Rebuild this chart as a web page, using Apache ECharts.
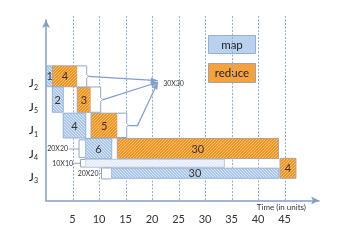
<!DOCTYPE html>
<html><head><meta charset="utf-8">
<script src="https://cdn.jsdelivr.net/npm/echarts@6/dist/echarts.min.js"></script>
<style>html,body{margin:0;padding:0;background:#fff}#c{width:349px;height:247px}</style>
</head><body><div id="c"></div>
<script>
// ---- data ----
const jobs = ['J3', 'J4', 'J1', 'J5', 'J2'];            // lanes 1..5 (bottom to top)
const gridTimes = [5, 10, 15, 20, 25, 30, 35, 40, 45];
const tickLabels = ['5', '10', '15', '20', '25', '30', '35', '40', '45'];

const barKind  = ['map', 'reduce', 'map', 'reduce', 'map', 'reduce', 'map', 'reduce', 'shuffle', 'map', 'reduce'];
const barText  = ['1', '4', '2', '3', '4', '5', '6', '30', '', '30', '4'];
const barStart = [0.1, 1.25, 1.2, 5.9, 3.25, 8.5, 7.35, 13.45, 7.35, 12.25, 44.15];
const barEnd   = [1.25, 5.9, 3.25, 8.45, 7.5, 13.45, 12.4, 43.85, 33.65, 43.95, 47.15];
const laneLow  = [4.86, 4.86, 3.77, 3.77, 2.67, 2.67, 1.79, 1.79, 1.42, 0.95, 0.95];
const laneHigh = [5.75, 5.75, 4.85, 4.85, 3.73, 3.73, 2.65, 2.65, 1.76, 1.38, 1.8];

// brackets (edge = side touching the bar, spine = outer side)
const braceEdge  = [5.9, 8.43, 13.45, 7.35, 7.35, 12.25];
const braceSpine = [7.68, 10.32, 15.23, 6.23, 6.5, 10.47];
const braceLow   = [4.85, 3.77, 2.69, 1.84, 1.43, 0.92];
const braceHigh  = [5.75, 4.85, 3.73, 2.59, 1.75, 1.39];

// connectors
const mergeTarget = [21.1, 5.1];
const mergeLabel = '30X30';
const mergeLabelPos = [22.1, 4.98];
const linkPaths = [
  [[8.0, 5.3], [21.1, 5.12]],
  [[10.66, 4.3], [21.1, 5.05]],
  [[15.57, 3.2], [17.26, 3.2], [21.1, 5.05]]
];
const sizeLabels = ['20X20', '10X10', '20X20'];
const sizeLabelPos = [[4.15, 2.2], [5.1, 1.57], [9.9, 1.16]];
const sizeLinkFrom = [[6.23, 2.2], [6.5, 1.59], [10.47, 1.15]];

// ---- styles ----
function hatch(bg, line, back) {
  const n = 3, c = document.createElement('canvas');
  c.width = n; c.height = n;
  const g = c.getContext('2d');
  g.fillStyle = bg; g.fillRect(0, 0, n, n);
  g.strokeStyle = line; g.lineWidth = 1;
  for (let k = -1; k <= 1; k++) {
    g.beginPath();
    if (back) { g.moveTo(k * n, 0); g.lineTo(k * n + n, n); }
    else { g.moveTo(k * n, n); g.lineTo(k * n + n, 0); }
    g.stroke();
  }
  return { image: c, repeat: 'repeat' };
}
const fills = {
  map: hatch('#a9c6ea', '#dde8f6', true),
  reduce: hatch('#f39322', '#fbc271', false),
  shuffle: hatch('#e2ebf7', '#f6f9fd', true)
};
const strokes = { map: '#93b2da', reduce: '#a8a39c', shuffle: '#b9c6d6' };
const FONT = 'Lato, "Open Sans", sans-serif';
const LINE = '#7f9fcb';

const chart = echarts.init(document.getElementById('c'), null, { renderer: 'canvas' });

const option = {
  animation: false,
  grid: { left: 46, right: 30, top: 20, bottom: 46.5 },
  xAxis: {
    type: 'value', min: 0, max: 51.5, interval: 5,
    axisLine: { show: true, onZero: false, symbol: ['none', 'arrow'], symbolSize: [6, 8], lineStyle: { color: LINE, width: 1.5 } },
    axisTick: { show: false }, splitLine: { show: false },
    axisLabel: {
      margin: 13, fontSize: 11, color: '#333', fontFamily: FONT,
      formatter: v => { const k = gridTimes.indexOf(v); return k >= 0 ? tickLabels[k] : ''; }
    },
    name: 'Time (in units)', nameLocation: 'end', nameGap: -13,
    nameTextStyle: { align: 'right', verticalAlign: 'top', padding: [3, 0, 0, 0], fontSize: 8, color: '#333', fontFamily: FONT }
  },
  yAxis: {
    type: 'value', min: 0, max: 7.71, interval: 1,
    axisLine: { show: true, onZero: false, symbol: ['none', 'arrow'], symbolSize: [6, 8], lineStyle: { color: LINE, width: 1.5 } },
    axisTick: { show: false }, splitLine: { show: false },
    axisLabel: {
      margin: 8, fontSize: 12, color: '#222', fontFamily: FONT,
      formatter: v => {
        const j = Number.isInteger(v) ? jobs[v - 1] : null;
        return j ? j[0] + '{s|' + j.slice(1) + '}' : '';
      },
      rich: { s: { fontSize: 7, color: '#222', fontFamily: FONT, padding: [8, 0, 0, 0] } }
    }
  },
  series: [
    { // vertical dotted gridlines
      type: 'custom', coordinateSystem: 'cartesian2d', clip: false, z: 1,
      data: gridTimes.map(t => [t, 0]),
      encode: { x: 0, y: 1 },
      renderItem: (params, api) => {
        const cs = params.coordSys;
        const x = Math.round(api.coord([api.value(0), 0])[0]) + 0.5;
        return { type: 'line', shape: { x1: x, y1: cs.y - 4, x2: x, y2: cs.y + cs.height },
          style: { stroke: '#8fb0da', lineWidth: 1, lineDash: [2, 1.5] } };
      }
    },
    { // connector lines
      type: 'custom', coordinateSystem: 'cartesian2d', clip: false, z: 2,
      data: linkPaths.map((p, i) => [p[0][0], p[0][1], i]),
      encode: { x: 0, y: 1 },
      renderItem: (params, api) => {
        const pts = linkPaths[api.value(2)].map(p => api.coord(p));
        const E = pts[pts.length - 1], P = pts[pts.length - 2];
        let dx = E[0] - P[0], dy = E[1] - P[1]; const L = Math.hypot(dx, dy); dx /= L; dy /= L;
        const nx = -dy, ny = dx, a = 7, w = 2.8;
        return { type: 'group', children: [
          { type: 'polyline', shape: { points: pts }, style: { stroke: LINE, lineWidth: 1.2, fill: null } },
          { type: 'polygon', shape: { points: [E, [E[0] - dx * a + nx * w, E[1] - dy * a + ny * w], [E[0] - dx * a - nx * w, E[1] - dy * a - ny * w]] },
            style: { fill: LINE } }
        ] };
      }
    },
    { // size label connectors
      type: 'custom', coordinateSystem: 'cartesian2d', clip: false, z: 2,
      data: sizeLinkFrom.map((p, i) => [p[0], p[1], i]),
      encode: { x: 0, y: 1 },
      renderItem: (params, api) => {
        const i = api.value(2);
        const a = api.coord(sizeLinkFrom[i]), b = api.coord(sizeLabelPos[i]);
        return { type: 'line', shape: { x1: a[0], y1: a[1], x2: b[0] + 1, y2: a[1] }, style: { stroke: '#8fa7c8', lineWidth: 1 } };
      }
    },
    { // bars
      type: 'custom', coordinateSystem: 'cartesian2d', clip: false, z: 3,
      data: barStart.map((s, i) => [s, barEnd[i], laneLow[i], laneHigh[i], i]),
      encode: { x: [0, 1], y: [2, 3] },
      renderItem: (params, api) => {
        const i = api.value(4);
        const p0 = api.coord([api.value(0), api.value(3)]);
        const p1 = api.coord([api.value(1), api.value(2)]);
        const k = barKind[i];
        return { type: 'group', children: [
          { type: 'rect', shape: { x: p0[0], y: p0[1], width: p1[0] - p0[0], height: p1[1] - p0[1] },
            style: { fill: fills[k], stroke: strokes[k], lineWidth: 1 } },
          { type: 'text', style: { text: barText[i], x: (p0[0] + p1[0]) / 2, y: (p0[1] + p1[1]) / 2 + 0.5,
            align: 'center', verticalAlign: 'middle', fontSize: 11, fontFamily: FONT, fill: '#333' } }
        ] };
      }
    },
    { // brackets
      type: 'custom', coordinateSystem: 'cartesian2d', clip: false, z: 4,
      data: braceEdge.map((e, i) => [e, braceSpine[i], braceLow[i], braceHigh[i], i]),
      encode: { x: [0, 1], y: [2, 3] },
      renderItem: (params, api) => {
        const e = api.coord([api.value(0), api.value(3)]);
        const s = api.coord([api.value(1), api.value(2)]);
        const xe = e[0], xs = s[0], yh = e[1], yl = s[1], m = (yh + yl) / 2;
        const dir = xs > xe ? 1 : -1;
        const pts = dir > 0
          ? [[xe, yh], [xs, yh], [xs, m - 2], [xs + 2, m], [xs, m + 2], [xs, yl], [xe, yl]]
          : [[xe, yh], [xs, yh], [xs, yl], [xe, yl]];
        return { type: 'group', children: [
          { type: 'polygon', shape: { points: pts }, style: { fill: '#fff' } },
          { type: 'polyline', shape: { points: pts }, style: { stroke: '#8fa7c8', lineWidth: 1, fill: null } }
        ] };
      }
    },
    { // size labels
      type: 'custom', coordinateSystem: 'cartesian2d', clip: false, z: 5,
      data: sizeLabelPos.map((p, i) => [p[0], p[1], i]).concat([[mergeLabelPos[0], mergeLabelPos[1], -1]]),
      encode: { x: 0, y: 1 },
      renderItem: (params, api) => {
        const i = api.value(2);
        const p = api.coord([api.value(0), api.value(1)]);
        return { type: 'text', style: { text: i < 0 ? mergeLabel : sizeLabels[i], x: p[0], y: p[1],
          align: i < 0 ? 'left' : 'right', verticalAlign: 'middle', fontSize: 7, fontFamily: FONT, fill: '#333' } };
      }
    }
  ],
  graphic: [
    { type: 'group', left: 208, top: 35, children: [
      { type: 'rect', shape: { x: 0, y: 0, width: 47, height: 18 }, style: { fill: fills.map, stroke: strokes.map, lineWidth: 1 } },
      { type: 'text', style: { text: 'map', x: 23.5, y: 9.5, align: 'center', verticalAlign: 'middle', fontSize: 11.5, fontFamily: FONT, fill: '#222' } },
      { type: 'rect', shape: { x: 0, y: 28, width: 47, height: 19 }, style: { fill: fills.reduce, stroke: strokes.reduce, lineWidth: 1 } },
      { type: 'text', style: { text: 'reduce', x: 23.5, y: 38, align: 'center', verticalAlign: 'middle', fontSize: 11.5, fontFamily: FONT, fill: '#222' } }
    ] }
  ]
};
chart.setOption(option);
</script></body></html>
